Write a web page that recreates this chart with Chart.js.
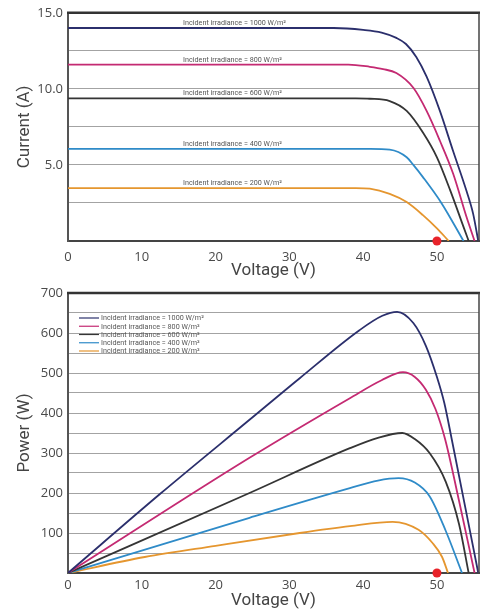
<!DOCTYPE html>
<html>
<head>
<meta charset="utf-8">
<script src="https://cdn.jsdelivr.net/npm/chart.js@4.4.1/dist/chart.umd.min.js"></script>
<style>
  body { margin: 0; background: #fff; }
  #wrap { position: relative; width: 487px; height: 613px; overflow: hidden; }
  #ivChart { position: absolute; left: 0; top: 0; }
  #pvChart { position: absolute; left: 0; top: 280px; }
</style>
</head>
<body>
<div id="wrap">
  <canvas id="ivChart" width="487" height="290"></canvas>
  <canvas id="pvChart" width="487" height="333"></canvas>
</div>
<script>
// irradiance levels (series names)
const seriesNames = [
  'Incident irradiance = 1000 W/m²',
  'Incident irradiance = 800 W/m²',
  'Incident irradiance = 600 W/m²',
  'Incident irradiance = 400 W/m²',
  'Incident irradiance = 200 W/m²'
];
const seriesColors = ['#2b2f6c', '#c42a72', '#353535', '#2f8bc8', '#e5962f'];

// I-V curves (voltage V, current A)
const ivVolt1000 = [0, 36, 40, 42.5, 44.5, 45.8, 47.2, 48.6, 50.4, 52.2, 54.0, 54.9, 55.6];
const ivAmp1000  = [14.0, 14.0, 13.88, 13.7, 13.35, 12.95, 12.1, 10.8, 8.55, 5.9, 3.3, 1.8, 0];
const ivVolt800  = [0, 38, 40.9, 42.7, 44.5, 46.8, 48.6, 50.4, 52.2, 54.0, 55.1];
const ivAmp800   = [11.6, 11.6, 11.45, 11.3, 11.04, 10.07, 8.55, 6.59, 4.42, 1.59, 0];
const ivVolt600  = [0, 39, 40.9, 43.6, 45.9, 48.1, 50.0, 51.8, 53.6, 54.3];
const ivAmp600   = [9.37, 9.37, 9.35, 9.2, 8.55, 7.13, 5.5, 3.33, 0.93, 0];
const ivVolt400  = [0, 41, 43.6, 45.9, 46.8, 48.1, 50.6, 53.6];
const ivAmp400   = [6.05, 6.05, 6.0, 5.5, 5.0, 4.2, 2.5, 0];
const ivVolt200  = [0, 39, 40.9, 43.6, 45.9, 48.1, 50.0, 51.6];
const ivAmp200   = [3.48, 3.48, 3.44, 3.1, 2.56, 1.7, 0.83, 0];

// P-V curves (voltage V, power W)
const pvVolt1000 = [0, 12.5, 24.6, 31.4, 39.5, 42.6, 44.6, 46.8, 48.5, 50, 51, 52, 55.6];
const pvWatt1000 = [0, 198, 383, 487, 607, 643, 653, 625, 568, 490, 425, 335, 0];
const pvVolt800  = [0, 24.6, 38.2, 42.5, 45.4, 47, 48.5, 49.8, 51.1, 53.0, 55.1];
const pvWatt800  = [0, 288, 437, 482, 502, 490, 458, 410, 335, 180, 0];
const pvVolt600  = [0, 24.6, 38.2, 42, 45.3, 47, 49, 51.2, 53, 54.3];
const pvWatt600  = [0, 200, 312, 338, 350, 335, 300, 228, 122, 0];
const pvVolt400  = [0, 24.6, 38.2, 42, 44.8, 47, 49, 51.2, 53.4];
const pvWatt400  = [0, 138, 212, 231, 237, 226, 192, 105, 0];
const pvVolt200  = [0, 10.4, 20, 31.4, 38.2, 44, 47.5, 49.4, 50.7, 51.5];
const pvWatt200  = [0, 40, 68, 100, 117, 128, 108, 75, 40, 0];

// marked point on the voltage axis
const markVolt = 50;

const ivVolts = [ivVolt1000, ivVolt800, ivVolt600, ivVolt400, ivVolt200];
const ivAmps  = [ivAmp1000, ivAmp800, ivAmp600, ivAmp400, ivAmp200];
const pvVolts = [pvVolt1000, pvVolt800, pvVolt600, pvVolt400, pvVolt200];
const pvWatts = [pvWatt1000, pvWatt800, pvWatt600, pvWatt400, pvWatt200];

const tickFont = { family: "'Open Sans', 'DejaVu Sans', sans-serif", size: 13 };
const titleFont = { family: "'Liberation Sans Narrow', 'Roboto', sans-serif", size: 17 };
const smallFont = "7.2px 'Liberation Sans Narrow', 'Roboto', sans-serif";

function makeLines(volts, vals) {
  return volts.map((v, k) => ({
    label: seriesNames[k],
    data: v.map((x, i) => ({ x: x, y: vals[k][i] })),
    borderColor: seriesColors[k],
    borderWidth: 1.8,
    pointRadius: 0,
    fill: false,
    cubicInterpolationMode: 'monotone'
  }));
}

function redDot() {
  return {
    type: 'scatter',
    label: 'mark',
    data: [{ x: markVolt, y: 0 }],
    pointRadius: 4.5,
    pointBackgroundColor: '#e8232a',
    pointBorderWidth: 0,
    clip: false
  };
}

// dark frame on top and right of plot
const framePlugin = {
  id: 'frame',
  afterDraw(chart) {
    const { ctx, chartArea: a } = chart;
    ctx.save();
    ctx.strokeStyle = '#333';
    ctx.lineWidth = 2.5;
    ctx.beginPath();
    ctx.moveTo(a.left - 1, a.top);
    ctx.lineTo(a.right + 1, a.top);
    ctx.stroke();
    ctx.lineWidth = 1.5;
    ctx.strokeStyle = '#444';
    ctx.beginPath();
    ctx.moveTo(a.right, a.top);
    ctx.lineTo(a.right, a.bottom);
    ctx.stroke();
    ctx.restore();
  }
};

// small labels above each I-V curve
const curveLabelPlugin = {
  id: 'curveLabels',
  afterDatasetsDraw(chart) {
    const { ctx, scales } = chart;
    ctx.save();
    ctx.font = smallFont;
    ctx.fillStyle = '#555';
    ctx.textBaseline = 'alphabetic';
    seriesNames.forEach((name, k) => {
      const x = scales.x.getPixelForValue(15.6);
      const y = scales.y.getPixelForValue(ivAmps[k][0]) - 3;
      ctx.fillText(name, x, y);
    });
    ctx.restore();
  }
};

// legend inside power plot
const legendPlugin = {
  id: 'innerLegend',
  afterDatasetsDraw(chart) {
    const { ctx, chartArea: a } = chart;
    ctx.save();
    ctx.font = smallFont;
    ctx.textBaseline = 'middle';
    seriesNames.forEach((name, k) => {
      const y = a.top + 25 + k * 8.25;
      ctx.strokeStyle = seriesColors[k];
      ctx.lineWidth = 1.2;
      ctx.beginPath();
      ctx.moveTo(a.left + 11, y);
      ctx.lineTo(a.left + 31, y);
      ctx.stroke();
      ctx.fillStyle = '#555';
      ctx.fillText(name, a.left + 33, y + 0.5);
    });
    ctx.restore();
  }
};

function xScale(titlePad, tickPad, height) {
  return {
    type: 'linear',
    min: 0,
    max: 55.7,
    afterFit: s => { s.height = height; },
    grid: { display: false, drawTicks: false },
    border: { color: '#444', width: 2 },
    ticks: {
      stepSize: 10,
      includeBounds: false,
      autoSkip: false,
      maxRotation: 0,
      padding: tickPad,
      color: '#4a4a4a',
      font: tickFont,
      callback: v => (v % 10 === 0 ? String(v) : '')
    },
    title: {
      display: true,
      text: 'Voltage (V)',
      color: '#444',
      font: titleFont,
      padding: { top: 0, bottom: titlePad }
    }
  };
}

function yScale(max, step, text, fmt) {
  return {
    min: 0,
    max: max,
    afterFit: s => { s.width = 68; },
    grid: { color: '#a3a3a3', lineWidth: 1, drawTicks: false },
    border: { color: '#555', width: 2 },
    ticks: {
      stepSize: step,
      autoSkip: false,
      padding: 5,
      color: '#4a4a4a',
      font: tickFont,
      callback: fmt
    },
    title: {
      display: true,
      text: text,
      color: '#444',
      font: titleFont,
      padding: { top: 15, bottom: 0 }
    }
  };
}

new Chart(document.getElementById('ivChart'), {
  type: 'line',
  data: { datasets: [redDot()].concat(makeLines(ivVolts, ivAmps)) },
  options: {
    responsive: false,
    animation: false,
    layout: { padding: { left: 0, top: 11, right: 8, bottom: 0 } },
    plugins: { legend: { display: false }, tooltip: { enabled: false } },
    scales: {
      x: xScale(9, 8, 49),
      y: yScale(15, 2.5, 'Current (A)', v => (v > 0 && v % 5 === 0 ? v.toFixed(1) : ''))
    }
  },
  plugins: [framePlugin, curveLabelPlugin]
});

new Chart(document.getElementById('pvChart'), {
  type: 'line',
  data: { datasets: [redDot()].concat(makeLines(pvVolts, pvWatts)) },
  options: {
    responsive: false,
    animation: false,
    layout: { padding: { left: 0, top: 13, right: 8, bottom: 0 } },
    plugins: { legend: { display: false }, tooltip: { enabled: false } },
    scales: {
      x: xScale(2, 4, 40),
      y: yScale(700, 50, 'Power (W)', v => (v > 0 && v % 100 === 0 ? String(v) : ''))
    }
  },
  plugins: [framePlugin, legendPlugin]
});
</script>
</body>
</html>
